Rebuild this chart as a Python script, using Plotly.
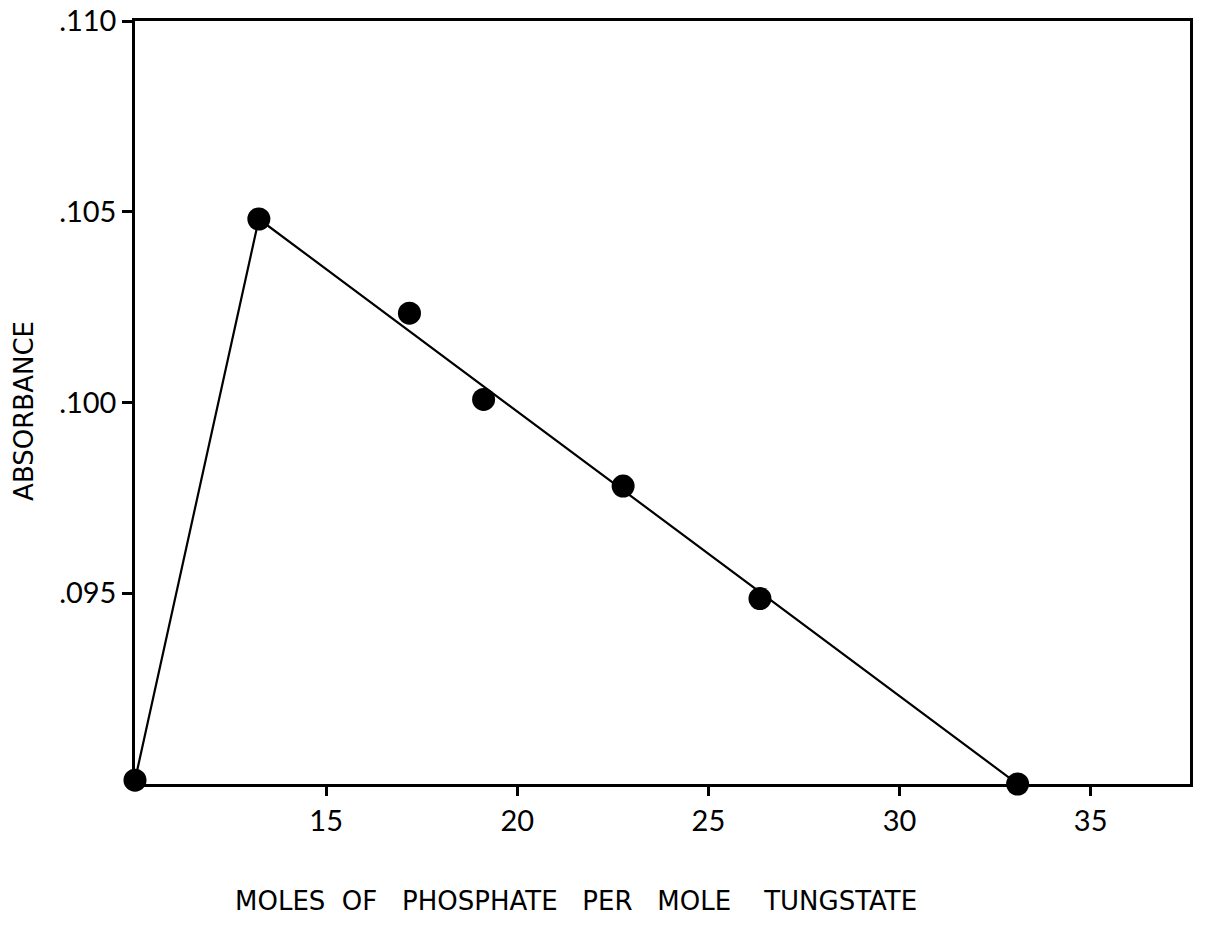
import plotly.graph_objects as go

# Data
x_vals = [10.0, 13.24, 17.18, 19.12, 22.77, 26.35, 33.09]
y_vals = [0.0901, 0.10481, 0.10234, 0.10008, 0.09781, 0.09486, 0.0900]

# Drawn line: rise to the peak, then a straight fit to the last point
line_x = [10.0, 13.24, 33.09]
line_y = [0.0901, 0.10481, 0.0900]

x_tick_vals = [15, 20, 25, 30, 35]
x_tick_text = ["15", "20", "25", "30", "35"]
y_tick_vals = [0.095, 0.100, 0.105, 0.110]
y_tick_text = [".095", ".100", ".105", ".110"]

x_title = "MOLES\u00a0\u00a0OF\u00a0\u00a0\u00a0PHOSPHATE\u00a0\u00a0\u00a0PER\u00a0\u00a0\u00a0MOLE\u00a0\u00a0\u00a0\u00a0TUNGSTATE"
y_title = "ABSORBANCE"

TICK_FONT = "Lato"
TITLE_FONT = "DejaVu Sans"

fig = go.Figure()
fig.add_trace(go.Scatter(
    x=line_x, y=line_y, mode="lines",
    line=dict(color="black", width=2.2),
    cliponaxis=False, showlegend=False, hoverinfo="skip",
))
fig.add_trace(go.Scatter(
    x=x_vals, y=y_vals, mode="markers",
    marker=dict(color="black", size=23),
    cliponaxis=False, showlegend=False,
))

fig.update_layout(
    width=1205, height=925,
    margin=dict(l=135, r=15, t=21, b=141),
    paper_bgcolor="white", plot_bgcolor="white",
    font=dict(family=TICK_FONT, color="black"),
    xaxis=dict(
        range=[10, 37.6], tickvals=x_tick_vals, ticktext=x_tick_text,
        showgrid=False, zeroline=False,
        showline=True, linecolor="black", linewidth=2.5, mirror=True,
        ticks="outside", ticklen=9, tickwidth=2.5, tickcolor="black",
        tickfont=dict(size=29, family=TICK_FONT),
        ticklabeloverflow="allow",
        automargin=False,
    ),
    yaxis=dict(
        range=[0.0900, 0.1100], tickvals=y_tick_vals, ticktext=y_tick_text,
        showgrid=False, zeroline=False,
        showline=True, linecolor="black", linewidth=2.5, mirror=True,
        ticks="outside", ticklen=10, tickwidth=2.5, tickcolor="black",
        tickfont=dict(size=29, family=TICK_FONT),
        ticklabeloverflow="allow",
        automargin=False,
    ),
    annotations=[
        dict(text=x_title, xref="paper", yref="paper", x=0.418, y=0,
             xanchor="center", yanchor="middle", yshift=-117, showarrow=False,
             font=dict(size=26, family=TITLE_FONT, color="black")),
        dict(text=y_title, xref="paper", yref="paper", x=0, y=0.489,
             xanchor="center", yanchor="middle", xshift=-111, textangle=-90,
             showarrow=False,
             font=dict(size=26, family=TITLE_FONT, color="black")),
    ],
)

fig.write_html("out.html",
               config={"displayModeBar": False},
               post_script="document.body.style.margin='0';document.body.style.overflow='hidden';")
